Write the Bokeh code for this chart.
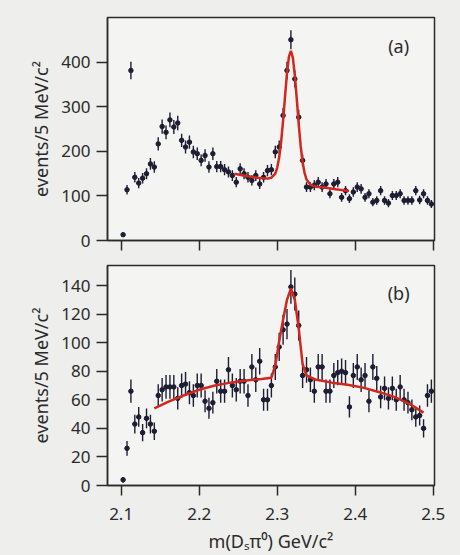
import numpy as np
from bokeh.plotting import figure
from bokeh.layouts import column
from bokeh.models import ColumnDataSource, FixedTicker, Label, Range1d
from bokeh.embed import file_html
from bokeh.resources import INLINE

# ---------------- data ----------------
# 5 MeV bins of m(Ds pi0), GeV/c^2
n_bins = 80
bin_width = 0.005
mass = [round(2.1 + bin_width * (i + 0.5), 4) for i in range(n_bins)]

counts_a = [13, 114, 382, 142, 129, 140, 150, 172, 165, 217,
            256, 243, 271, 255, 264, 225, 210, 221, 199, 195,
            180, 191, 165, 195, 166, 166, 159, 154, 146, 131,
            161, 150, 142, 135, 146, 127, 142, 157, 159, 199,
            210, 281, 382, 451, 363, 277, 180, 120, 120, 124,
            131, 120, 127, 105, 127, 131, 97, 112, 94, 109,
            120, 116, 97, 105, 86, 90, 112, 90, 84, 101,
            101, 105, 90, 90, 90, 112, 91, 105, 90, 82]

counts_b = [4, 26, 66, 43, 48, 37, 47, 43, 38, 63,
            67, 69, 69, 69, 61, 70, 71, 65, 63, 70,
            70, 59, 54, 58, 73, 66, 66, 81, 70, 67,
            73, 73, 63, 83, 74, 87, 60, 60, 70, 83,
            97, 109, 113, 139, 134, 112, 77, 81, 74, 66,
            83, 83, 66, 66, 77, 79, 80, 79, 55, 77,
            83, 74, 77, 59, 83, 75, 62, 68, 61, 68,
            60, 69, 60, 58, 53, 48, 49, 40, 63, 66]

fit_a_x = [2.245, 2.26, 2.275, 2.2875, 2.2925, 2.2975, 2.300, 2.3025, 2.305,
           2.3075, 2.310, 2.3125, 2.315, 2.3175, 2.320, 2.3225, 2.325, 2.3275,
           2.330, 2.3325, 2.335, 2.3375, 2.3425, 2.35, 2.36, 2.375, 2.392]
fit_a_y = [150, 145, 141, 139, 141, 150, 164, 187, 222,
           270, 324, 376, 413, 426, 411, 372, 318, 262,
           213, 176, 152, 137, 125, 121, 119, 115, 111]

fit_b_x = [2.1425, 2.16, 2.18, 2.2, 2.22, 2.24, 2.26, 2.28, 2.2925, 2.2975,
           2.3025, 2.3075, 2.3125, 2.3175, 2.3225, 2.3275, 2.3325, 2.3375,
           2.35, 2.37, 2.39, 2.41, 2.43, 2.45, 2.47, 2.4875]
fit_b_y = [54, 58.5, 63, 67, 70, 72, 73.5, 74.5, 75.5, 84,
           101, 116, 130, 138, 130, 110, 85, 77,
           74, 72, 70.5, 68.5, 65.5, 62, 57, 51]

x_ticks = [2.1, 2.2, 2.3, 2.4, 2.5]
y_ticks_a = [0, 100, 200, 300, 400]
y_ticks_b = [0, 20, 40, 60, 80, 100, 120, 140]

# ---------------- style ----------------
FONT = "Noto Sans"
BG = "#eeeeec"
FRAME_BG = "#f4f4f2"
INK = "#2a2a2a"
DATA_COL = "#1d1d33"
FIT_COL = "#d0281e"
TICK_FS = "17px"
LABEL_FS = "18px"


def panel(counts, fit_x, fit_y, y_max, y_ticks, tag, tag_y, height,
          border_top, border_bottom, show_x_labels):
    p = figure(width=460, height=height, output_backend="svg",
               toolbar_location=None,
               x_range=Range1d(2.0825, 2.5015), y_range=Range1d(0, y_max),
               min_border_left=107, min_border_right=26,
               min_border_top=border_top, min_border_bottom=border_bottom)
    p.background_fill_color = FRAME_BG
    p.border_fill_color = BG
    p.outline_line_color = INK
    p.outline_line_width = 1.5
    p.grid.visible = False

    c = np.array(counts, dtype=float)
    err = np.sqrt(c)
    src = ColumnDataSource(dict(x=mass, y=c, lo=c - err, hi=c + err,
                                xl=[m - bin_width / 2 for m in mass],
                                xh=[m + bin_width / 2 for m in mass]))
    p.segment(x0="x", y0="lo", x1="x", y1="hi", source=src,
              line_color=DATA_COL, line_width=1.4)
    p.segment(x0="xl", y0="y", x1="xh", y1="y", source=src,
              line_color=DATA_COL, line_width=2)
    p.scatter(x="x", y="y", source=src, size=4.5, marker="circle",
              fill_color=DATA_COL, line_color=DATA_COL)
    p.line(fit_x, fit_y, line_color=FIT_COL, line_width=2.5)

    p.add_layout(Label(x=2.4555, y=tag_y, text=tag, text_font=FONT,
                       text_font_size="18px", text_color=INK,
                       text_align="center", text_baseline="middle"))

    for ax in (p.xaxis[0], p.yaxis[0]):
        ax.axis_line_color = INK
        ax.axis_line_width = 1.5
        ax.major_tick_line_color = INK
        ax.major_tick_line_width = 1.5
        ax.major_tick_in = 0
        ax.minor_tick_line_color = None
        ax.major_label_text_font = FONT
        ax.major_label_text_font_size = TICK_FS
        ax.major_label_text_color = INK
        ax.axis_label_text_font = FONT
        ax.axis_label_text_font_size = LABEL_FS
        ax.axis_label_text_font_style = "normal"
        ax.axis_label_text_color = INK

    p.xaxis.ticker = FixedTicker(ticks=x_ticks)
    p.xaxis.major_tick_out = 10
    p.yaxis.ticker = FixedTicker(ticks=y_ticks)
    p.yaxis.major_tick_out = 11
    p.yaxis.major_label_standoff = 6
    p.yaxis.axis_label = "events/5 MeV/c²"
    p.yaxis.axis_label_standoff = 5
    if show_x_labels:
        p.xaxis.major_label_standoff = 12
        p.xaxis.axis_label = "m(Dₛπ⁰) GeV/c²"
        p.xaxis.axis_label_standoff = 6
    else:
        p.xaxis.major_label_text_color = None
        p.xaxis.major_label_text_font_size = "0px"
        p.xaxis.major_label_standoff = 0
    return p


pa = panel(counts_a, fit_a_x, fit_a_y, 501, y_ticks_a, "(a)", 436,
           height=262, border_top=17, border_bottom=22, show_x_labels=False)
pb = panel(counts_b, fit_b_x, fit_b_y, 154, y_ticks_b, "(b)", 135,
           height=293, border_top=3, border_bottom=69, show_x_labels=True)

layout = column(pa, pb, spacing=0)
layout.styles = {"background-color": BG}

open("out.html", "w").write(file_html(layout, INLINE))
